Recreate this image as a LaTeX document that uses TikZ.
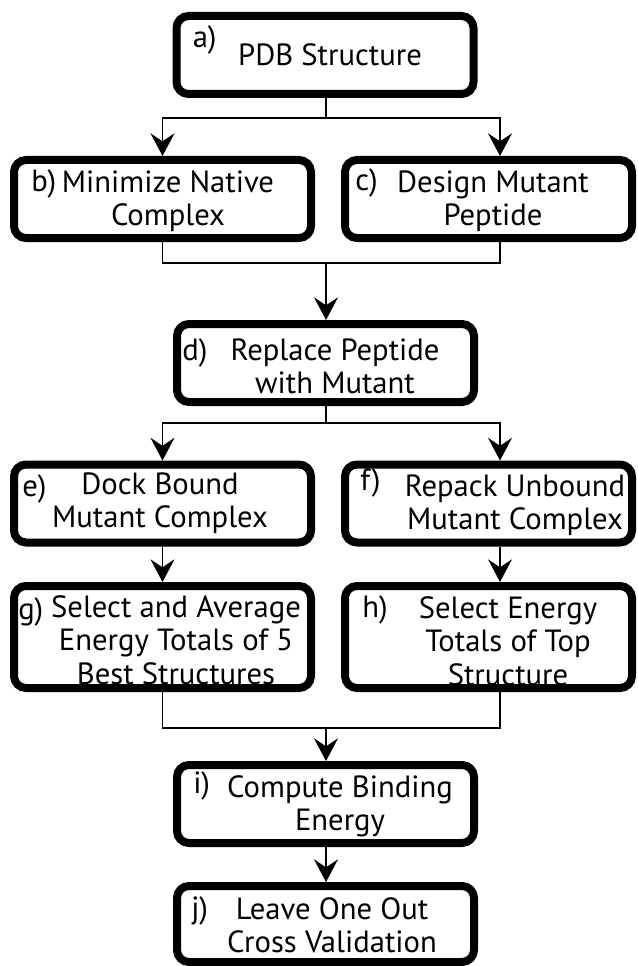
\documentclass[tikz,border=0pt]{standalone}
\usepackage{fontspec}
\setmainfont{PT Sans}
\usetikzlibrary{arrows.meta,calc}

\begin{document}
\begin{tikzpicture}[x=0.75pt,y=-0.75pt,
  stepbox/.style={draw,line width=6pt,rounded corners=9pt,inner sep=0pt,
    minimum width=222.75pt,minimum height=58.5pt},
  txt/.style={align=center,inner sep=0pt,font=\fontsize{23}{25}\selectfont},
  tag/.style={anchor=north west,inner sep=0pt,font=\fontsize{23}{25}\selectfont},
  flow/.style={line width=1.1pt},
  >={Stealth[length=17pt,width=18pt,inset=6pt]}]
\useasboundingbox (0,0) rectangle (637,966);

\node[stepbox] (a) at (325,55) {};
\node[stepbox] (b) at (162.5,199) {};
\node[stepbox,minimum width=215.25pt] (c) at (488.5,199) {};
\node[stepbox] (d) at (325.5,363) {};
\node[stepbox] (e) at (162.5,503.5) {};
\node[stepbox,minimum width=215.25pt] (f) at (488.5,503.5) {};
\node[stepbox,minimum height=76.5pt] (g) at (162.5,637) {};
\node[stepbox,minimum width=215.25pt,minimum height=76.5pt] (h) at (488.5,637) {};
\node[stepbox] (i) at (325.5,804) {};
\node[stepbox,minimum height=57pt] (j) at (325.5,924) {};

\node[txt] (atxt) at (330,55) {PDB Structure};
\node[txt] (btxt) at (168,201) {Minimize Native\\Complex};
\node[txt] (ctxt) at (493,201) {Design Mutant\\Peptide};
\node[txt] (dtxt) at (335,366) {Replace Peptide\\with Mutant};
\node[txt] (etxt) at (160,503) {Dock Bound\\Mutant Complex};
\node[txt] (ftxt) at (515,505) {Repack Unbound\\Mutant Complex};
\node[txt] (gtxt) at (176,640) {Select and Average\\Energy Totals of 5\\Best Structures};
\node[txt] (htxt) at (508,641) {Select Energy\\Totals of Top\\Structure};
\node[txt] (itxt) at (340,806) {Compute Binding\\Energy};
\node[txt] (jtxt) at (332,925) {Leave One Out\\Cross Validation};

\node[tag] (atag) at ($(a.north west)+(20,13)$) {a)};
\node[tag] (btag) at ($(b.north west)+(21,13)$) {b)};
\node[tag] (ctag) at ($(c.north west)+(14,12)$) {c)};
\node[tag] (dtag) at ($(d.north west)+(9,18)$) {d)};
\node[tag] (etag) at ($(e.north west)+(12,14)$) {e)};
\node[tag] (ftag) at ($(f.north west)+(19,8)$) {f)};
\node[tag] (gtag) at ($(g.north west)+(8,15)$) {g)};
\node[tag] (htag) at ($(h.north west)+(21,13)$) {h)};
\node[tag] (itag) at ($(i.north west)+(20,10)$) {i)};
\node[tag] (jtag) at ($(j.north west)+(18,14)$) {j)};

\coordinate (s1) at (326,118);
\coordinate (m1) at (326,263);
\coordinate (s2) at (326,423);
\coordinate (m2) at (326,728);
\coordinate (cin) at ($(c.north)+(11.5,0)$);
\coordinate (cout) at ($(c.south)+(11.5,0)$);
\coordinate (fin) at ($(f.north)+(11.5,0)$);
\coordinate (fout) at ($(f.south)+(11.5,0)$);
\coordinate (hin) at ($(h.north)+(11.5,0)$);
\coordinate (hout) at ($(h.south)+(11.5,0)$);

\draw[flow] (a.south -| s1) -- (s1);
\draw[flow,->] (s1) -| (b.north);
\draw[flow,->] (s1) -| (cin);
\draw[flow] (b.south) |- (m1);
\draw[flow] (cout) |- (m1);
\draw[flow,->] (m1) -- (m1 |- d.north);
\draw[flow] (d.south -| s2) -- (s2);
\draw[flow,->] (s2) -| (e.north);
\draw[flow,->] (s2) -| (fin);
\draw[flow,->] (e.south) -- (g.north);
\draw[flow,->] (fout) -- (hin);
\draw[flow] (g.south) |- (m2);
\draw[flow] (hout) |- (m2);
\draw[flow,->] (m2) -- (m2 |- i.north);
\draw[flow,->] (i.south -| m2) -- (j.north -| m2);
\end{tikzpicture}
\end{document}
